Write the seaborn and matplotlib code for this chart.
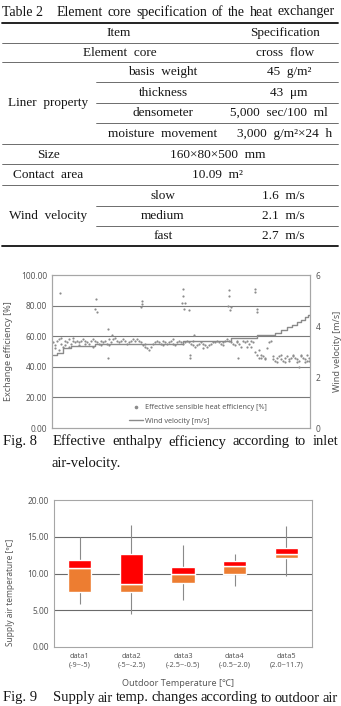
import matplotlib
matplotlib.use("Agg")
import matplotlib.pyplot as plt
from matplotlib.lines import Line2D
from matplotlib.ticker import FormatStrFormatter
import pandas as pd
import seaborn as sns

W, H = 341, 706

# ---- Table 2 ----
table_rows = [
    # (label, label_x, value, value_x, y)
    ("Item", 119, "Specification", 285, 33),
    ("Element  core", 120, "cross  flow", 285, 53),
    ("basis  weight", 163, "45  g/m\u00b2", 289, 72),
    ("thickness", 163, "43  \u03bcm", 289, 93),
    ("densometer", 163, "5,000  sec/100  ml", 279, 113),
    ("moisture  movement", 163, "3,000  g/m\u00b2\u00d724  h", 285, 134),
    ("Size", 48, "160\u00d780\u00d7500  mm", 218, 155),
    ("Contact  area", 48, "10.09  m\u00b2", 217, 175),
    ("slow", 163, "1.6  m/s", 283, 196),
    ("medium", 163, "2.1  m/s", 283, 216),
    ("fast", 163, "2.7  m/s", 283, 236),
]
group_labels = [("Liner  property", 48, 103), ("Wind  velocity", 48, 216)]

# ---- Fig. 8: exchange efficiency [%] and wind velocity [m/s] ----
band_t = list(range(129))
band_v = [56, 54, 57, 58, 55, 53, 57, 56, 58, 55, 57, 56,
          57, 56, 57, 58, 57, 56, 55, 57, 58, 57, 56, 55, 54, 56, 57, 55, 54, 56,
          58, 59, 57, 56, 57, 58, 57, 55, 56, 57, 58,
          57, 58, 57, 56, 54, 53, 52, 51, 53, 55,
          56, 57, 56, 55, 57, 56, 55, 56, 57, 55, 54, 56, 57, 56, 55, 56,
          57, 56, 55, 54, 53, 54, 55, 56, 55, 54, 53, 54, 55, 56,
          56, 57, 56, 55, 56, 57, 58, 57, 56, 55, 54, 56, 55, 53, 57,
          56, 57, 55, 53, 56, 50, 48, 46, 46, 47, 46, 52, 56,
          57, 45, 44, 46, 47, 45, 44, 46, 47, 45, 46, 48, 46, 45, 44, 47, 46, 45, 44, 46]
extra_t = [1, 3, 4, 6, 8, 10, 13, 16, 20, 24, 28, 46, 55, 60, 70, 75, 85, 92,
           97, 99, 103, 104, 106, 110, 112, 114, 116, 118, 120, 122, 123, 124, 126, 127, 128]
extra_v = [52, 51, 59, 54, 53, 59, 54, 55, 53, 57, 58, 55, 54, 58, 57, 52, 54, 57,
           53, 57, 51, 48, 45, 47, 43, 48, 43, 44, 47, 43, 40, 48, 43, 48, 44]
outlier_t = [3.5, 21.5, 21, 22, 27.5, 29.5, 27.5, 44.5, 44.5, 44, 65, 65, 64.5, 66, 65.5, 68,
             68.5, 68.5, 70.5, 88, 88, 87.5, 89, 88.5, 92.5, 101, 101, 102, 102]
outlier_v = [88, 84, 78, 76, 65, 61, 46, 83, 81, 79, 91, 86, 82, 82, 78, 77,
             46, 48, 61, 90, 86, 80, 79, 77, 46, 91, 89, 78, 76]

wind_t = [0, 2, 5, 9, 21, 65, 89, 102, 111, 114, 117, 119.5, 122, 124, 126, 127.5, 129]
wind_v = [2.86, 2.94, 3.12, 3.23, 3.30, 3.40, 3.53, 3.65, 3.74, 3.86, 3.96, 4.05,
          4.14, 4.24, 4.35, 4.45, 4.56]

# ---- Fig. 9: supply air temperature ----
temp_cats = ["data1\n(-9~-5)", "data2\n(-5~-2.5)", "data3\n(-2.5~-0.5)",
             "data4\n(-0.5~2.0)", "data5\n(2.0~11.7)"]
q_low = [7.5, 7.5, 8.7, 9.9, 12.1]
q_mid = [10.7, 8.6, 10.0, 11.0, 12.7]
q_high = [11.8, 12.7, 10.9, 11.7, 13.5]
w_min = [5.8, 4.5, 6.4, 8.3, 9.6]
w_max = [15.0, 16.6, 13.9, 12.7, 16.5]

sns.set_style("white")
plt.rcParams["font.family"] = ["Noto Sans", "DejaVu Sans"]

SERIF = "Liberation Serif"
INK = "#151515"
TXT = "#595959"
FRAME = "#a6a6a6"
GRID = "#7a7a7a"
CAP = 10.5

fig = plt.figure(figsize=(W / 100, H / 100), dpi=100)


def fy(py):
    return 1 - py / H


def rule(y, x0=2, x1=338, lw=0.5, color="#333333"):
    fig.add_artist(Line2D([x0 / W, x1 / W], [fy(y), fy(y)], transform=fig.transFigure,
                          lw=lw, color=color))


def justified(words, x0, x1, y, size=10):
    r = fig.canvas.get_renderer()
    texts = [fig.text(0, fy(y), w, va="center", ha="left", family=SERIF, size=size, color=INK)
             for w in words]
    widths = [t.get_window_extent(r).width for t in texts]
    gap = (x1 - x0 - sum(widths)) / max(len(words) - 1, 1)
    x = x0
    for t, w in zip(texts, widths):
        t.set_x(x / W)
        x += w + gap


# table
fig.text(2 / W, fy(12), "Table 2", family=SERIF, size=10, va="center", color=INK)
justified("Element core specification of the heat exchanger".split(), 57, 335, 12)
rule(22.5, lw=1.3, color="#111111")
for y in [43, 62, 144, 164, 185]:
    rule(y)
for y in [82, 103, 123, 206, 226]:
    rule(y, x0=96)
rule(246, lw=1.3, color="#111111")
for label, lx, value, vx, y in table_rows:
    fig.text(lx / W, fy(y), label, ha="center", va="center", family=SERIF, size=9.5, color=INK)
    fig.text(vx / W, fy(y), value, ha="center", va="center", family=SERIF, size=9.5, color=INK)
for label, lx, y in group_labels:
    fig.text(lx / W, fy(y), label, ha="center", va="center", family=SERIF, size=9.5, color=INK)

# Fig. 8
ax1 = fig.add_axes([52 / W, fy(428), 258 / W, 153 / H])
sns.scatterplot(x=band_t + extra_t + outlier_t, y=band_v + extra_v + outlier_v, ax=ax1,
                s=2.5, color="#8c8c8c", linewidth=0, marker="o", legend=False)
ax1.set_xlim(-0.5, 128.5)
ax1.set_ylim(0, 100)
ax1.set_yticks(range(0, 101, 20))
ax1.yaxis.set_major_formatter(FormatStrFormatter("%.2f"))
ax1.set_xticks([])
ax1.set_xlabel("")
ax1.set_ylabel("Exchange efficiency [%]", fontsize=6.5, color=TXT)
ax1.yaxis.set_label_coords(-0.151, 0.5)
for v in [20, 40, 60, 80]:
    ax1.axhline(v, color=GRID, lw=0.8, zorder=0)
ax1.tick_params(axis="y", length=0, pad=3.6, labelsize=6, labelcolor=TXT)

ax2 = ax1.twinx()
sns.lineplot(x=wind_t, y=wind_v, ax=ax2, drawstyle="steps-post", color="#8a8a8a", lw=1.0)
ax2.set_ylim(0, 6)
ax2.set_yticks([0, 2, 4, 6])
ax2.set_xlim(-0.5, 128.5)
ax2.set_ylabel("Wind velocity [m/s]", fontsize=6.5, color=TXT)
ax2.yaxis.set_label_coords(1.089, 0.5)
ax2.tick_params(axis="y", length=0, pad=4.3, labelsize=6, labelcolor=TXT)
for ax in (ax1, ax2):
    for s in ax.spines.values():
        s.set_color(FRAME)
        s.set_linewidth(0.8)

handles = [Line2D([], [], ls="none", marker="o", ms=1.6, color="#8c8c8c"),
           Line2D([], [], color="#8a8a8a", lw=1.0)]
ax2.legend(handles, ["Effective sensible heat efficiency [%]", "Wind velocity [m/s]"],
           loc="center", bbox_to_anchor=(0.566, 0.088), frameon=False, fontsize=5.2,
           handlelength=2.0, handletextpad=0.3, labelspacing=0.9, borderpad=0,
           labelcolor=TXT)

fig.text(3 / W, fy(442), "Fig. 8", family=SERIF, size=CAP, va="center", color=INK)
justified("Effective enthalpy efficiency according to inlet".split(), 53, 338, 442, size=CAP)
fig.text(52 / W, fy(463), "air-velocity.", family=SERIF, size=CAP, va="center", color=INK)

# Fig. 9
ax3 = fig.add_axes([54 / W, fy(647), 258 / W, 147 / H])
ax3.vlines(range(len(temp_cats)), w_min, w_max, color="#8a8a8a", lw=0.8, zorder=1)
sns.barplot(x=temp_cats, y=[m - l for l, m in zip(q_low, q_mid)], bottom=q_low, ax=ax3,
            color="#ed7d31", saturation=1, width=0.45, errorbar=None, zorder=2)
sns.barplot(x=temp_cats, y=[h - m for m, h in zip(q_mid, q_high)], bottom=q_mid, ax=ax3,
            color="#ff0000", saturation=1, width=0.45, errorbar=None, zorder=2)
ax3.set_xlim(-0.5, 4.5)
ax3.set_ylim(0, 20)
ax3.set_yticks(range(0, 21, 5))
ax3.yaxis.set_major_formatter(FormatStrFormatter("%.2f"))
for v in [5, 10, 15]:
    ax3.axhline(v, color="#6a6a6a", lw=0.8, zorder=0)
ax3.set_ylabel("Supply air temperature [\u2103]", fontsize=6, color=TXT)
ax3.yaxis.set_label_coords(-0.151, 0.37)
ax3.set_xlabel("Outdoor Temperature [\u2103]", fontsize=6.5, color=TXT)
ax3.xaxis.set_label_coords(0.48, -0.215)
ax3.tick_params(axis="y", length=0, pad=3.6, labelsize=6, labelcolor=TXT)
ax3.tick_params(axis="x", length=0, pad=4, labelsize=5.3, labelcolor=TXT)
for lab in ax3.get_xticklabels():
    lab.set_linespacing(1.45)
for s in ax3.spines.values():
    s.set_color(FRAME)
    s.set_linewidth(0.8)

fig.text(3 / W, fy(698), "Fig. 9", family=SERIF, size=CAP, va="center", color=INK)
justified("Supply air temp. changes according to outdoor air".split(), 53, 338, 698, size=CAP)

fig.savefig("out.png", dpi=100)
